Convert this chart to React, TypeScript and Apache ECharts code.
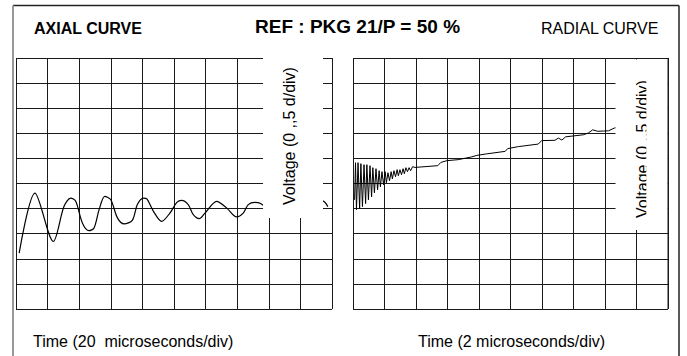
import React, { useEffect, useRef } from "react";
import * as echarts from "echarts";

// Axial curve (divisions: x 0..10, y 0..10)
const axialX = [0.1, 0.6, 1.18, 1.52, 1.73, 1.89, 2.1, 2.31, 2.47, 2.63, 2.81, 3.0, 3.21, 3.42, 3.68, 3.84, 4.03, 4.14, 4.35, 4.61, 4.87, 5.09, 5.24, 5.45, 5.61, 5.8, 5.98, 6.35, 6.67, 6.98, 7.19, 7.35, 7.56, 7.74, 8.04, 8.35, 8.73, 9.18, 9.56, 9.75, 9.87];
const axialY = [2.23, 4.62, 2.69, 4.09, 4.42, 4.29, 3.43, 3.12, 3.23, 3.96, 4.49, 4.35, 3.63, 3.39, 3.53, 4.16, 4.42, 4.39, 3.89, 3.49, 3.82, 4.25, 4.33, 4.16, 3.76, 3.6, 3.82, 4.29, 4.02, 3.67, 3.82, 4.16, 4.25, 4.2, 3.92, 3.8, 3.92, 4.24, 4.36, 4.28, 4.08];

// Radial curve (divisions)
const radialX = [0.05, 0.08, 0.11, 0.16, 0.21, 0.25, 0.3, 0.35, 0.4, 0.44, 0.49, 0.54, 0.59, 0.63, 0.68, 0.73, 0.78, 0.83, 0.87, 0.92, 0.97, 1.02, 1.06, 1.11, 1.16, 1.21, 1.25, 1.3, 1.35, 1.4, 1.44, 1.49, 1.54, 1.59, 1.63, 1.68, 1.73, 1.78, 1.83, 1.89, 1.97, 2.69, 2.79, 2.98, 3.34, 3.77, 3.93, 4.24, 4.83, 4.91, 5.25, 5.88, 5.99, 6.41, 6.52, 6.63, 6.75, 7.31, 7.47, 7.61, 7.77, 7.95, 8.11, 8.3, 8.45];
const radialY = [4.35, 5.83, 3.96, 5.83, 4.0, 5.79, 4.08, 5.75, 4.2, 5.75, 4.35, 5.71, 4.47, 5.63, 4.63, 5.59, 4.75, 5.51, 4.87, 5.47, 4.95, 5.47, 5.03, 5.43, 5.11, 5.47, 5.19, 5.51, 5.27, 5.55, 5.31, 5.55, 5.35, 5.59, 5.39, 5.63, 5.47, 5.63, 5.51, 5.67, 5.64, 5.71, 5.84, 5.91, 5.95, 6.06, 6.12, 6.18, 6.28, 6.39, 6.47, 6.57, 6.71, 6.72, 6.81, 6.73, 6.86, 6.94, 7.01, 7.14, 7.08, 7.09, 7.1, 7.21, 7.25];

const headerLeft = "AXIAL CURVE";
const headerCenter = "REF : PKG 21/P = 50 %";
const headerRight = "RADIAL CURVE";
const voltageLabel = "Voltage (0 ,,5 d/div)";
const timeLeft = "Time (20  microseconds/div)";
const timeRight = "Time (2 microseconds/div)";

const FONT = "'Liberation Sans', Arial, sans-serif";

export default function App() {
  const ref = useRef<HTMLDivElement>(null);
  useEffect(() => {
    if (!ref.current) return;
    const chart = echarts.init(ref.current, null, { renderer: "svg" });
    const gridLine = { show: true, lineStyle: { color: "#1a1a1a", width: 1 } };
    const axisCommon = {
      type: "value" as const,
      min: 0,
      max: 10,
      interval: 1,
      axisLine: { show: false },
      axisTick: { show: false },
      axisLabel: { show: false },
      splitLine: gridLine,
    };
    const axialData = axialX.map((x, i) => [x, axialY[i]]);
    const radialData = radialX.map((x, i) => [x, radialY[i]]);
    chart.setOption({
      animation: false,
      backgroundColor: "#ffffff",
      grid: [
        { left: 16, top: 58, width: 316, height: 251 },
        { left: 353, top: 58, width: 315, height: 251 },
      ],
      xAxis: [
        { ...axisCommon, gridIndex: 0 },
        { ...axisCommon, gridIndex: 1 },
      ],
      yAxis: [
        { ...axisCommon, gridIndex: 0 },
        { ...axisCommon, gridIndex: 1 },
      ],
      series: [
        {
          type: "line",
          xAxisIndex: 0,
          yAxisIndex: 0,
          data: axialData,
          smooth: 0.3,
          showSymbol: false,
          lineStyle: { color: "#000", width: 1.2 },
        },
        {
          type: "line",
          xAxisIndex: 1,
          yAxisIndex: 1,
          data: radialData,
          showSymbol: false,
          lineStyle: { color: "#000", width: 1 },
        },
      ],
      graphic: [
        // outer frame
        { type: "line", z: 30, shape: { x1: 13, y1: 5.5, x2: 679, y2: 5.5 }, style: { stroke: "#222", lineWidth: 1.5 } },
        { type: "line", z: 30, shape: { x1: 13, y1: 5.5, x2: 13, y2: 360 }, style: { stroke: "#999", lineWidth: 2 } },
        { type: "line", z: 30, shape: { x1: 679, y1: 5.5, x2: 679, y2: 360 }, style: { stroke: "#222", lineWidth: 1.5 } },
        // header
        { type: "text", z: 30, x: 34, y: 36, style: { text: headerLeft, font: `bold 16px ${FONT}`, fill: "#000", textVerticalAlign: "bottom" } },
        { type: "text", z: 30, x: 255, y: 36, style: { text: headerCenter, font: `bold 19px ${FONT}`, fill: "#000", textVerticalAlign: "bottom" } },
        { type: "text", z: 30, x: 541, y: 36, style: { text: headerRight, font: `16px ${FONT}`, fill: "#000", textVerticalAlign: "bottom" } },
        // left voltage label box
        { type: "rect", z: 10, shape: { x: 263, y: 50, width: 60, height: 168 }, style: { fill: "#fff" } },
        { type: "text", z: 20, x: 289, y: 136, rotation: Math.PI / 2, style: { text: voltageLabel, font: `16px ${FONT}`, fill: "#000", textAlign: "center", textVerticalAlign: "middle" } },
        // right voltage label box
        { type: "rect", z: 10, shape: { x: 615.5, y: 59.5, width: 52, height: 170.5 }, style: { fill: "#fff" } },
        { type: "text", z: 20, x: 642, y: 149, rotation: Math.PI / 2, style: { text: voltageLabel, font: `16px ${FONT}`, fill: "#000", textAlign: "center", textVerticalAlign: "middle" } },
        { type: "rect", z: 21, shape: { x: 646.3, y: 59.5, width: 21.2, height: 170.5 }, style: { fill: "#fff" } },
        { type: "line", z: 22, shape: { x1: 668, y1: 58, x2: 668, y2: 309 }, style: { stroke: "#1a1a1a", lineWidth: 1 } },
        // footer
        { type: "text", z: 30, x: 33, y: 349, style: { text: timeLeft, font: `16px ${FONT}`, fill: "#000", textVerticalAlign: "bottom" } },
        { type: "text", z: 30, x: 418, y: 349, style: { text: timeRight, font: `16px ${FONT}`, fill: "#000", textVerticalAlign: "bottom" } },
      ],
    });
    return () => chart.dispose();
  }, []);
  return (
    <div
      ref={ref}
      style={{ position: "fixed", left: 0, top: 0, width: 687, height: 356, background: "#fff" }}
    />
  );
}
